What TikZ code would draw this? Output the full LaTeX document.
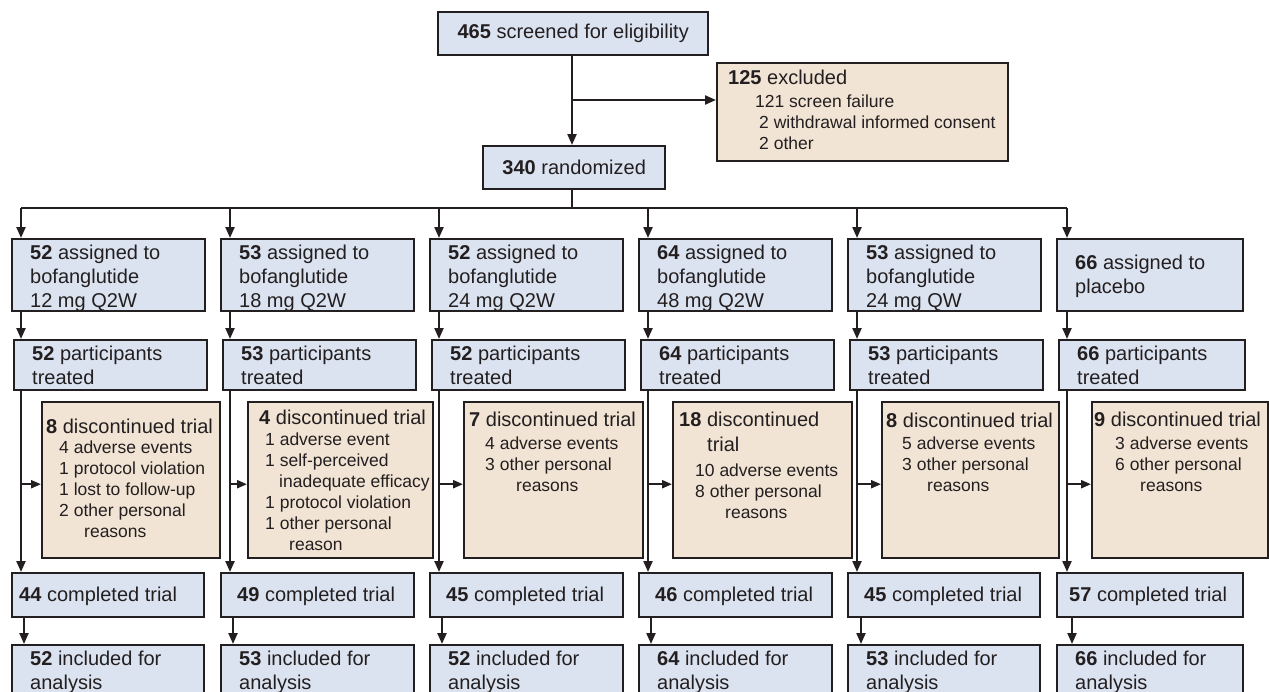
\documentclass[tikz,border=0pt]{standalone}
\usepackage{fontspec}
\setmainfont{Liberation Sans}
\usetikzlibrary{arrows.meta}
\definecolor{boxblue}{RGB}{220,227,240}
\definecolor{boxtan}{RGB}{242,228,212}
\definecolor{edgecol}{RGB}{35,31,32}
\begin{document}
\begin{tikzpicture}[x=1pt,y=-1pt,
  bluebox/.style={draw=edgecol,fill=boxblue,line width=2.4pt,inner sep=0pt,anchor=north west,minimum width=193pt},
  tanbox/.style={draw=edgecol,fill=boxtan,line width=2.4pt,inner sep=0pt,anchor=north west},
  bigtxt/.style={font=\fontsize{20}{24}\selectfont,align=left,inner sep=0pt,text=edgecol},
  smalltxt/.style={font=\fontsize{17.5}{21}\selectfont,align=left,inner sep=0pt,text=edgecol},
  conn/.style={draw=edgecol,line width=2.2pt},
  arr/.style={conn,-{Triangle[length=11pt,width=9pt]}},
  sarr/.style={conn,-{Triangle[length=10pt,width=8pt]}}
]
\useasboundingbox (0,0) rectangle (1269,691);
\clip (0,0) rectangle (1269,691);
\fill[white] (0,0) rectangle (1269,691);

% ---- top part ----
\node[bluebox,minimum width=270pt,minimum height=43pt,bigtxt] (s) at (437,11) {\textbf{465} screened for eligibility};
\node[bluebox,minimum width=182pt,minimum height=43pt,bigtxt] (r) at (482,145) {\textbf{340} randomized};
\node[tanbox,minimum width=291pt,minimum height=98pt] (ex) at (716,62) {};
\node[bigtxt,anchor=base west] (exh) at (728,84) {\textbf{125} excluded};
\node[smalltxt,anchor=north west] (exi) at (755,94.5) {121 screen failure\\\hspace*{4pt}2 withdrawal informed consent\\\hspace*{4pt}2 other};

\coordinate (b) at (572,100);
\draw[arr] (s.south -| b) -- (r.north -| b);
\draw[arr] (b) -- (b -| ex.west);

% column coordinates
\coordinate (k1) at (21,208);
\coordinate (k2) at (230,208);
\coordinate (k3) at (439,208);
\coordinate (k4) at (648,208);
\coordinate (k5) at (857,208);
\coordinate (k6) at (1067,208);
\coordinate (m1) at (24,0);
\coordinate (m2) at (233,0);
\coordinate (m3) at (442,0);
\coordinate (m4) at (651,0);
\coordinate (m5) at (861,0);
\coordinate (m6) at (1072,0);

\draw[conn] (r.south -| b) -- (k1 -| b);
\draw[conn] (k1) -- (k6);

% ---- assigned ----
\node[bluebox,minimum height=72pt] (a1) at (11,238) {};
\node[bluebox,minimum height=72pt] (a2) at (220,238) {};
\node[bluebox,minimum height=72pt] (a3) at (429,238) {};
\node[bluebox,minimum height=72pt] (a4) at (638,238) {};
\node[bluebox,minimum height=72pt] (a5) at (847,238) {};
\node[bluebox,minimum height=72pt,minimum width=186pt] (a6) at (1056,238) {};
\node[bigtxt,anchor=west] (a1t) at ([xshift=19pt,yshift=-3pt]a1.west) {\textbf{52} assigned to\\bofanglutide\\12 mg Q2W};
\node[bigtxt,anchor=west] (a2t) at ([xshift=19pt,yshift=-3pt]a2.west) {\textbf{53} assigned to\\bofanglutide\\18 mg Q2W};
\node[bigtxt,anchor=west] (a3t) at ([xshift=19pt,yshift=-3pt]a3.west) {\textbf{52} assigned to\\bofanglutide\\24 mg Q2W};
\node[bigtxt,anchor=west] (a4t) at ([xshift=19pt,yshift=-3pt]a4.west) {\textbf{64} assigned to\\bofanglutide\\48 mg Q2W};
\node[bigtxt,anchor=west] (a5t) at ([xshift=19pt,yshift=-3pt]a5.west) {\textbf{53} assigned to\\bofanglutide\\24 mg QW};
\node[bigtxt,anchor=west] (a6t) at ([xshift=19pt,yshift=-1pt]a6.west) {\textbf{66} assigned to\\placebo};

% ---- treated ----
\node[bluebox,minimum height=50pt] (t1) at (13,339) {};
\node[bluebox,minimum height=50pt] (t2) at (222,339) {};
\node[bluebox,minimum height=50pt] (t3) at (431,339) {};
\node[bluebox,minimum height=50pt] (t4) at (640,339) {};
\node[bluebox,minimum height=50pt] (t5) at (849,339) {};
\node[bluebox,minimum height=50pt,minimum width=186pt] (t6) at (1058,339) {};
\foreach \i/\n in {1/52,2/53,3/52,4/64,5/53,6/66}{
  \node[bigtxt,anchor=west] (t\i t) at ([xshift=19pt]t\i.west) {\textbf{\n} participants\\treated};
}

% ---- discontinued ----
\node[tanbox,minimum width=178pt,minimum height=156pt] (d1) at (41,401) {};
\node[tanbox,minimum width=185pt,minimum height=156pt] (d2) at (247,401) {};
\node[tanbox,minimum width=179pt,minimum height=156pt] (d3) at (463,401) {};
\node[tanbox,minimum width=179pt,minimum height=156pt] (d4) at (672,401) {};
\node[tanbox,minimum width=177pt,minimum height=156pt] (d5) at (881,401) {};
\node[tanbox,minimum width=176pt,minimum height=156pt] (d6) at (1091,401) {};

\node[bigtxt,anchor=base west] (d1h) at (46,433) {\textbf{8} discontinued trial};
\node[smalltxt,anchor=north west] (d1i) at (59,440.5) {4 adverse events\\1 protocol violation\\1 lost to follow-up\\2 other personal\\\hspace*{25pt}reasons};

\node[bigtxt,anchor=base west] (d2h) at (259,424) {\textbf{4} discontinued trial};
\node[smalltxt,anchor=north west] (d2i) at (265,432.5) {1 adverse event\\1 self-perceived\\\hspace*{14pt}inadequate efficacy\\1 protocol violation\\1 other personal\\\hspace*{24pt}reason};

\node[bigtxt,anchor=base west] (d3h) at (469,426) {\textbf{7} discontinued trial};
\node[smalltxt,anchor=north west] (d3i) at (485,436.5) {4 adverse events\\3 other personal\\\hspace*{31pt}reasons};

\node[bigtxt,anchor=north west,font=\fontsize{20}{25}\selectfont] (d4h) at (679,411.7) {\textbf{18} discontinued\\\hspace*{28pt}trial};
\node[smalltxt,anchor=north west] (d4i) at (695,463.5) {10 adverse events\\8 other personal\\\hspace*{30pt}reasons};

\node[bigtxt,anchor=base west] (d5h) at (886,427) {\textbf{8} discontinued trial};
\node[smalltxt,anchor=north west] (d5i) at (902,436.5) {5 adverse events\\3 other personal\\\hspace*{25pt}reasons};

\node[bigtxt,anchor=base west] (d6h) at (1094,426) {\textbf{9} discontinued trial};
\node[smalltxt,anchor=north west] (d6i) at (1115,436.5) {3 adverse events\\6 other personal\\\hspace*{25pt}reasons};

% ---- completed ----
\node[bluebox,minimum height=44pt,minimum width=192pt] (c1) at (11,572) {};
\node[bluebox,minimum height=44pt] (c2) at (220,572) {};
\node[bluebox,minimum height=44pt] (c3) at (429,572) {};
\node[bluebox,minimum height=44pt] (c4) at (638,572) {};
\node[bluebox,minimum height=44pt,minimum width=192pt] (c5) at (847,572) {};
\node[bluebox,minimum height=44pt,minimum width=186pt] (c6) at (1056,572) {};
\node[bigtxt,anchor=base west] (c1t) at (19,601) {\textbf{44} completed trial};
\node[bigtxt,anchor=base west] (c2t) at (237,601) {\textbf{49} completed trial};
\node[bigtxt,anchor=base west] (c3t) at (446,601) {\textbf{45} completed trial};
\node[bigtxt,anchor=base west] (c4t) at (655,601) {\textbf{46} completed trial};
\node[bigtxt,anchor=base west] (c5t) at (864,601) {\textbf{45} completed trial};
\node[bigtxt,anchor=base west] (c6t) at (1069,601) {\textbf{57} completed trial};

% ---- analysis ----
\node[bluebox,minimum height=51pt,minimum width=192pt] (n1) at (11,644) {};
\node[bluebox,minimum height=51pt] (n2) at (220,644) {};
\node[bluebox,minimum height=51pt] (n3) at (429,644) {};
\node[bluebox,minimum height=51pt] (n4) at (638,644) {};
\node[bluebox,minimum height=51pt,minimum width=192pt] (n5) at (847,644) {};
\node[bluebox,minimum height=51pt,minimum width=186pt] (n6) at (1056,644) {};
\foreach \i/\n in {1/52,2/53,3/52,4/64,5/53,6/66}{
  \node[bigtxt,anchor=west] (n\i t) at ([xshift=19pt,yshift=-2pt]n\i.west) {\textbf{\n} included for\\analysis};
}

% ---- connectors per column ----
\foreach \i in {1,...,6}{
  \draw[arr] (k\i) -- (k\i |- a\i.north);
  \draw[arr] (a\i.south -| k\i) -- (t\i.north -| k\i);
  \draw[arr] (t\i.south -| k\i) -- (c\i.north -| k\i);
  \draw[sarr] ([yshift=-4pt]d\i.west -| k\i) -- ([yshift=-4pt]d\i.west);
  \draw[arr] (c\i.south -| m\i) -- (n\i.north -| m\i);
}
\end{tikzpicture}
\end{document}
